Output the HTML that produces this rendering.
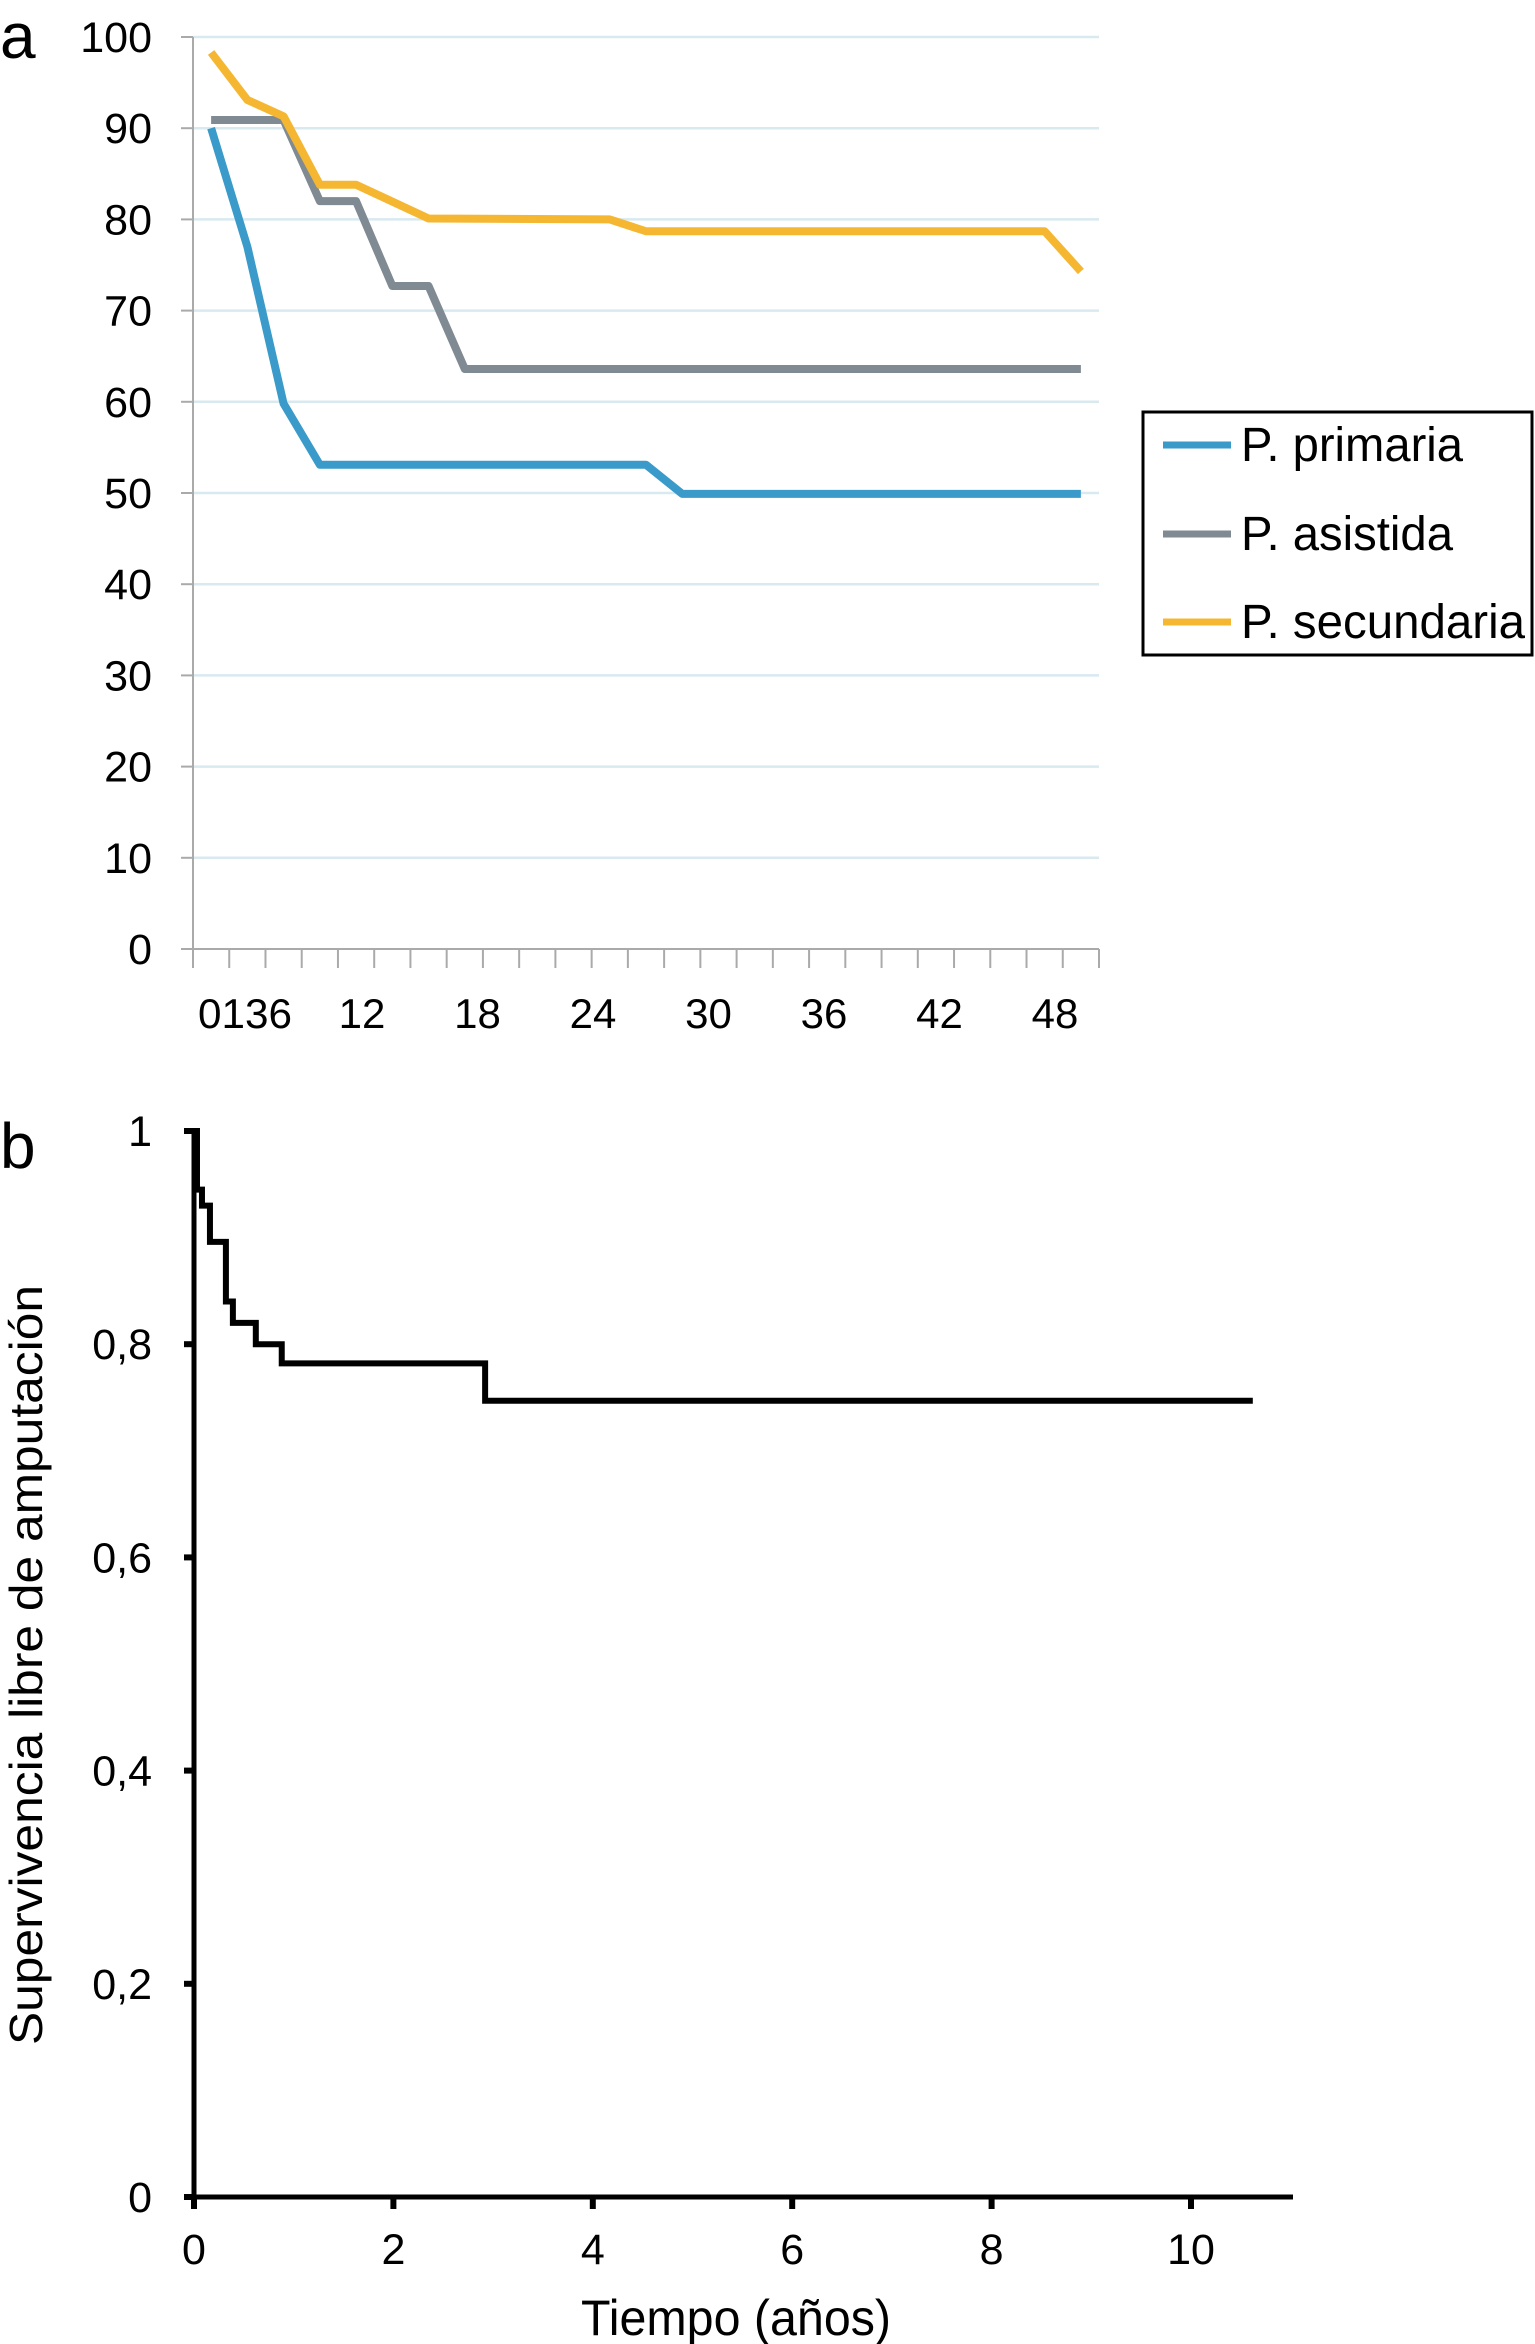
<!DOCTYPE html>
<html><head><meta charset="utf-8">
<style>
html,body{margin:0;padding:0;background:#fff;}
svg{display:block;font-family:"Liberation Sans",sans-serif;}
</style></head>
<body>
<svg id="s" width="1535" height="2344" viewBox="0 0 1535 2344" xmlns="http://www.w3.org/2000/svg">
<text x="0" y="58" font-size="64">a</text>
<g id="ga"></g>
<g>
<rect x="1143" y="412" width="389" height="243" fill="#fff" stroke="#000" stroke-width="3"/>
<g><line x1="1163" y1="445" x2="1231" y2="445" stroke="#3a9ac9" stroke-width="7"/><text x="1241" y="461" font-size="48" textLength="222" lengthAdjust="spacingAndGlyphs">P. primaria</text></g>
<g><line x1="1163" y1="534" x2="1231" y2="534" stroke="#7f8a93" stroke-width="7"/><text x="1241" y="550" font-size="48" textLength="212" lengthAdjust="spacingAndGlyphs">P. asistida</text></g>
<g><line x1="1163" y1="622" x2="1231" y2="622" stroke="#f5b731" stroke-width="7"/><text x="1241" y="638" font-size="48" textLength="284" lengthAdjust="spacingAndGlyphs">P. secundaria</text></g>
</g>
<text x="0" y="1168" font-size="64">b</text>
<g id="gb"></g>
<text transform="translate(42,1665) rotate(-90)" text-anchor="middle" font-size="46" textLength="760" lengthAdjust="spacingAndGlyphs">Supervivencia  libre de amputación</text>
<text x="736" y="2335" text-anchor="middle" font-size="50" textLength="310" lengthAdjust="spacingAndGlyphs">Tiempo (años)</text>
</svg>
<script>
// ---- Chart A data ----
const aYTicks = [0,10,20,30,40,50,60,70,80,90,100];
const aXLabels = [12,18,24,30,36,42,48];
const primariaX = [0,1,2,3,12,13,24];
const primariaY = [90,77,59.8,53.1,53.1,49.9,49.9];
const asistidaX = [0,2,3,4,5,6,7,24];
const asistidaY = [90.9,90.9,82,82,72.7,72.7,63.6,63.6];
const secundariaX = [0,1,2,3,4,6,11,12,23,24];
const secundariaY = [98.3,93.1,91.3,83.8,83.8,80.1,80,78.7,78.7,74.3];
// ---- Chart B data ----
const bYTicks = [0,0.2,0.4,0.6,0.8,1];
const bYLabels = ["0","0,2","0,4","0,6","0,8","1"];
const bXTicks = [0,2,4,6,8,10];
const kmT = [0,0.03,0.08,0.16,0.32,0.39,0.62,0.88,2.92,10.62];
const kmS = [1,0.945,0.93,0.896,0.84,0.82,0.80,0.782,0.747,0.747];

const NS="http://www.w3.org/2000/svg";
function mk(p,tag,at){const e=document.createElementNS(NS,tag);for(const k in at)e.setAttribute(k,at[k]);p.appendChild(e);return e;}

// Chart A
const ga=document.getElementById('ga');
const aL=193,aR=1099,aT=37,aB=949;
const ay=v=>aB-(v/100)*(aB-aT);
const ax=i=>aL+36.24*(i+0.5);
aYTicks.forEach(v=>{
  if(v>0){const g=mk(ga,'line',{x1:aL,x2:aR,y1:ay(v),y2:ay(v),stroke:'#d8e9f0','stroke-width':2.5});
  
  }
  const tk=mk(ga,'line',{x1:aL-12,x2:aL,y1:ay(v),y2:ay(v),stroke:'#aaa','stroke-width':2});
  
  
  const t=mk(ga,'text',{x:152,y:ay(v)+15,'text-anchor':'end','font-size':43});
  t.textContent=v;
  
  
});
const axl=mk(ga,'line',{x1:aL,x2:aL,y1:aT,y2:aB,stroke:'#aaa','stroke-width':2});


const axx=mk(ga,'line',{x1:aL,x2:aR,y1:aB,y2:aB,stroke:'#aaa','stroke-width':2});


for(let i=0;i<=25;i++){
  const x=aL+36.24*i;
  const tk=mk(ga,'line',{x1:x,x2:x,y1:aB,y2:968,stroke:'#aaa','stroke-width':2});
  
  
}
const l0=mk(ga,'text',{x:245,y:1028,'text-anchor':'middle','font-size':42,textLength:94,lengthAdjust:'spacingAndGlyphs'});
l0.textContent='0136';


aXLabels.forEach(m=>{
  const t=mk(ga,'text',{x:362+(m-12)*115.5/6,y:1028,'text-anchor':'middle','font-size':42});
  t.textContent=m;
  
  
});
function series(xs,ys,col,name){
  const p=mk(ga,'polyline',{points:xs.map((x,i)=>ax(x)+','+ay(ys[i])).join(' '),fill:'none',stroke:col,'stroke-width':8,'stroke-linejoin':'round'});
  
  
}
series(asistidaX,asistidaY,'#7f8a93','line-asistida');
series(primariaX,primariaY,'#3a9ac9','line-primaria');
series(secundariaX,secundariaY,'#f5b731','line-secundaria');

// Chart B
const gb=document.getElementById('gb');
const bL=194,bT=1131,bB=2197;
const by=v=>bB-v*(bB-bT);
const bx=t=>bL+t*99.7;
const ya=mk(gb,'line',{x1:bL,x2:bL,y1:bT-2,y2:bB,stroke:'#000','stroke-width':5});


const xa=mk(gb,'line',{x1:bL-10,x2:1293,y1:bB,y2:bB,stroke:'#000','stroke-width':5});


bYTicks.forEach((v,i)=>{
  const tk=mk(gb,'line',{x1:bL-10,x2:bL,y1:by(v),y2:by(v),stroke:'#000','stroke-width':6});
  
  
  const t=mk(gb,'text',{x:152,y:by(v)+15,'text-anchor':'end','font-size':43});
  t.textContent=bYLabels[i];
  
  
});
bXTicks.forEach(v=>{
  const tk=mk(gb,'line',{x1:bx(v),x2:bx(v),y1:bB,y2:bB+12,stroke:'#000','stroke-width':6});
  
  
  const t=mk(gb,'text',{x:bx(v),y:2264,'text-anchor':'middle','font-size':43});
  t.textContent=v;
  
  
});
let pts=[];
kmT.forEach((t,i)=>{
  if(i>0)pts.push(bx(t)+','+by(kmS[i-1]));
  pts.push(bx(t)+','+by(kmS[i]));
});
const km=mk(gb,'polyline',{points:pts.join(' '),fill:'none',stroke:'#000','stroke-width':6});


</script>
</body></html>
